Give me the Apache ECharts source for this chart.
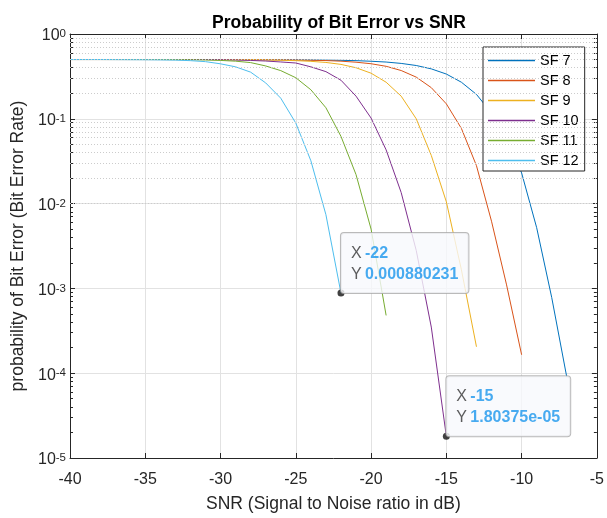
<!DOCTYPE html>
<html><head><meta charset="utf-8">
<script src="https://cdn.jsdelivr.net/npm/echarts@6/dist/echarts.min.js"></script>
<style>html,body{margin:0;padding:0;background:#fff}#c{width:607px;height:518px}</style>
</head><body><div id="c"></div>
<script>
// SNR grid (dB), 1 dB steps
const snr = [-40,-39,-38,-37,-36,-35,-34,-33,-32,-31,-30,-29,-28,-27,-26,-25,-24,-23,-22,-21,-20,-19,-18,-17,-16,-15,-14,-13,-12,-11,-10,-9,-8,-7,-6,-5];
const seriesNames = ['SF 7','SF 8','SF 9','SF 10','SF 11','SF 12'];
const colors = ['#0072BD','#D95319','#EDB120','#7E2F8E','#77AC30','#4DBEEE'];
// BER values, starting at SNR = -40 dB
const sf7 = [0.5,0.5,0.5,0.5,0.5,0.5,0.5,0.5,0.5,0.5,
  0.5,0.499,0.499,0.498,0.497,0.496,0.494,0.492,0.489,
  0.485,0.477,0.467,0.45,0.425,0.388,0.337,0.27,0.194,0.117,0.058,0.023,0.0052,0.00078,0.00009];
const sf8 = [0.5,0.5,0.5,0.5,0.5,0.5,0.5,0.5,0.5,0.5,
  0.499,0.499,0.498,0.497,0.495,0.493,0.49,0.486,0.478,0.465,0.446,0.416,0.371,0.31,0.233,0.15,0.077,0.028,0.0062,0.0011,0.000165];
const sf9 = [0.5,0.5,0.5,0.5,0.5,0.5,0.5,0.5,0.5,0.5,
  0.498,0.497,0.496,0.494,0.491,0.485,0.476,0.462,0.438,0.40,0.345,0.27,0.185,0.1,0.037,0.0105,0.00166,0.000205];
const sf10 = [0.5,0.5,0.5,0.5,0.5,0.5,0.5,0.5,0.5,0.5,
  0.497,0.494,0.488,0.48,0.468,0.455,0.41,0.36,0.285,0.185,0.102,0.043,0.0135,0.0028,0.00035,1.80375e-5];
const sf11 = [0.5,0.5,0.5,0.5,0.5,0.5,0.5,
  0.499,0.497,0.494,0.488,0.478,0.46,0.42,0.37,0.305,0.22,0.135,0.062,0.022,0.005,0.00048];
const sf12 = [0.5,0.5,0.5,0.499,0.498,0.497,0.495,
  0.492,0.485,0.472,0.445,0.41,0.355,0.265,0.175,0.089,0.032,0.0074,0.000880231];
const berSeries = [sf7, sf8, sf9, sf10, sf11, sf12];
// data tips
const tipX = [-22, -15];
const tipY = [0.000880231, 1.80375e-5];
const tipYText = ['0.000880231', '1.80375e-05'];
// log-axis ticks
const decades = [1e-5, 1e-4, 1e-3, 1e-2, 1e-1];
const mantissas = [2,3,4,5,6,7,8,9];
const minorVals = [];
decades.forEach(d => mantissas.forEach(m => minorVals.push(+(m*d).toPrecision(3))));

const FONT = 'Liberation Sans, Arial, sans-serif';
const AX = '#262626';

const lineSeries = berSeries.map((arr, k) => ({
  name: seriesNames[k], type: 'line', symbol: 'none', showSymbol: false, z: 3,
  color: colors[k], itemStyle: {color: colors[k]}, lineStyle: {width: 1, color: colors[k], type: 'solid'},
  data: arr.map((v, i) => [snr[i], v])
}));

const logAxisBase = {type: 'log', logBase: 10, min: 1e-5, max: 1, gridIndex: 0};

const option = {
  animation: false,
  backgroundColor: '#fff',
  textStyle: {fontFamily: FONT},
  title: {
    text: 'Probability of Bit Error vs SNR', left: 334, textAlign: 'center', top: 9,
    textStyle: {fontFamily: FONT, fontSize: 17.5, fontWeight: 'bold', color: '#000'}
  },
  grid: {left: 70, right: 9, top: 34, bottom: 53, containLabel: false},
  legend: {
    data: seriesNames, orient: 'vertical', left: 483, top: 47,
    padding: [6, 6, 3, 5], itemWidth: 47, itemHeight: 1.5, itemGap: 5,
    icon: 'rect', itemStyle: {borderWidth: 0},
    backgroundColor: '#fff', borderColor: AX, borderWidth: 1,
    textStyle: {fontFamily: FONT, fontSize: 14.5, color: '#000', lineHeight: 15}
  },
  xAxis: [{
    type: 'value', min: -40, max: -5, interval: 5,
    name: 'SNR (Signal to Noise ratio in dB)', nameLocation: 'middle', nameGap: 37,
    nameTextStyle: {fontFamily: FONT, fontSize: 17.5, color: AX},
    axisLine: {show: true, lineStyle: {color: AX}},
    axisTick: {show: true, inside: true, length: 5, lineStyle: {color: AX}},
    axisLabel: {fontFamily: FONT, fontSize: 16, color: AX, margin: 14},
    splitLine: {show: true, lineStyle: {color: '#e2e2e2', width: 1}}
  }, {
    type: 'value', min: -40, max: -5, interval: 5, position: 'top',
    axisLine: {show: true, lineStyle: {color: AX}},
    axisTick: {show: true, inside: true, length: 5, lineStyle: {color: AX}},
    axisLabel: {show: false}, splitLine: {show: false}
  }],
  yAxis: [Object.assign({}, logAxisBase, {
    position: 'left',
    name: 'probability of Bit Error (Bit Error Rate)', nameLocation: 'middle', nameGap: 40,
    nameTextStyle: {fontFamily: FONT, fontSize: 17.5, color: AX},
    axisLine: {show: true, lineStyle: {color: AX}},
    axisTick: {show: true, inside: true, length: 5, lineStyle: {color: AX}},
    axisLabel: {
      margin: 4, padding: [4, 0, 0, 0],
      formatter: v => '{b|10}{s|' + Math.round(Math.log10(v)) + '}',
      rich: {
        b: {fontFamily: FONT, fontSize: 16, lineHeight: 16, color: AX, verticalAlign: 'bottom', padding: [7, 0, 0, 0]},
        s: {fontFamily: FONT, fontSize: 11.5, lineHeight: 12, color: AX, verticalAlign: 'top'}
      }
    },
    splitLine: {show: true, lineStyle: {color: '#e2e2e2', width: 1}}
  }), Object.assign({}, logAxisBase, {
    position: 'right',
    axisLine: {show: true, lineStyle: {color: AX}},
    axisTick: {show: true, inside: true, length: 5, lineStyle: {color: AX}},
    axisLabel: {show: false}, splitLine: {show: false}
  }), Object.assign({}, logAxisBase, {
    position: 'left',
    axisLine: {show: false},
    axisTick: {show: true, inside: true, length: 3, customValues: minorVals, lineStyle: {color: AX}},
    axisLabel: {show: false}, splitLine: {show: false}
  }), Object.assign({}, logAxisBase, {
    position: 'right',
    axisLine: {show: false},
    axisTick: {show: true, inside: true, length: 3, customValues: minorVals, lineStyle: {color: AX}},
    axisLabel: {show: false}, splitLine: {show: false}
  })],
  series: [{
    name: 'minorGrid', type: 'line', data: [], z: 1, silent: true,
    markLine: {
      silent: true, symbol: 'none', animation: false, label: {show: false},
      lineStyle: {type: [1, 2], color: '#cccccc', width: 1},
      data: minorVals.map(v => ({yAxis: v}))
    }
  }].concat(lineSeries).concat([{
    name: 'tips', type: 'scatter', symbol: 'circle', symbolSize: 7, z: 10,
    itemStyle: {color: '#111'},
    data: tipX.map((x, i) => [x, tipY[i]]),
    label: {
      show: true, position: [3.5, 3.5], align: 'left', verticalAlign: 'bottom',
      formatter: p => '{k|X} {v|' + tipX[p.dataIndex] + '}\n{k|Y} {v|' + tipYText[p.dataIndex] + '}',
      backgroundColor: '#f8f9fc', borderColor: '#a9a9a9', borderWidth: 1, borderRadius: 3,
      padding: [10, 10, 8, 10], lineHeight: 21,
      rich: {
        k: {fontFamily: FONT, fontSize: 16, color: '#333', lineHeight: 21},
        v: {fontFamily: FONT, fontSize: 16, color: '#1a96ec', fontWeight: 'bold', lineHeight: 21}
      }
    }
  }])
};
const chart = echarts.init(document.getElementById('c'));
chart.setOption(option);
</script></body></html>
